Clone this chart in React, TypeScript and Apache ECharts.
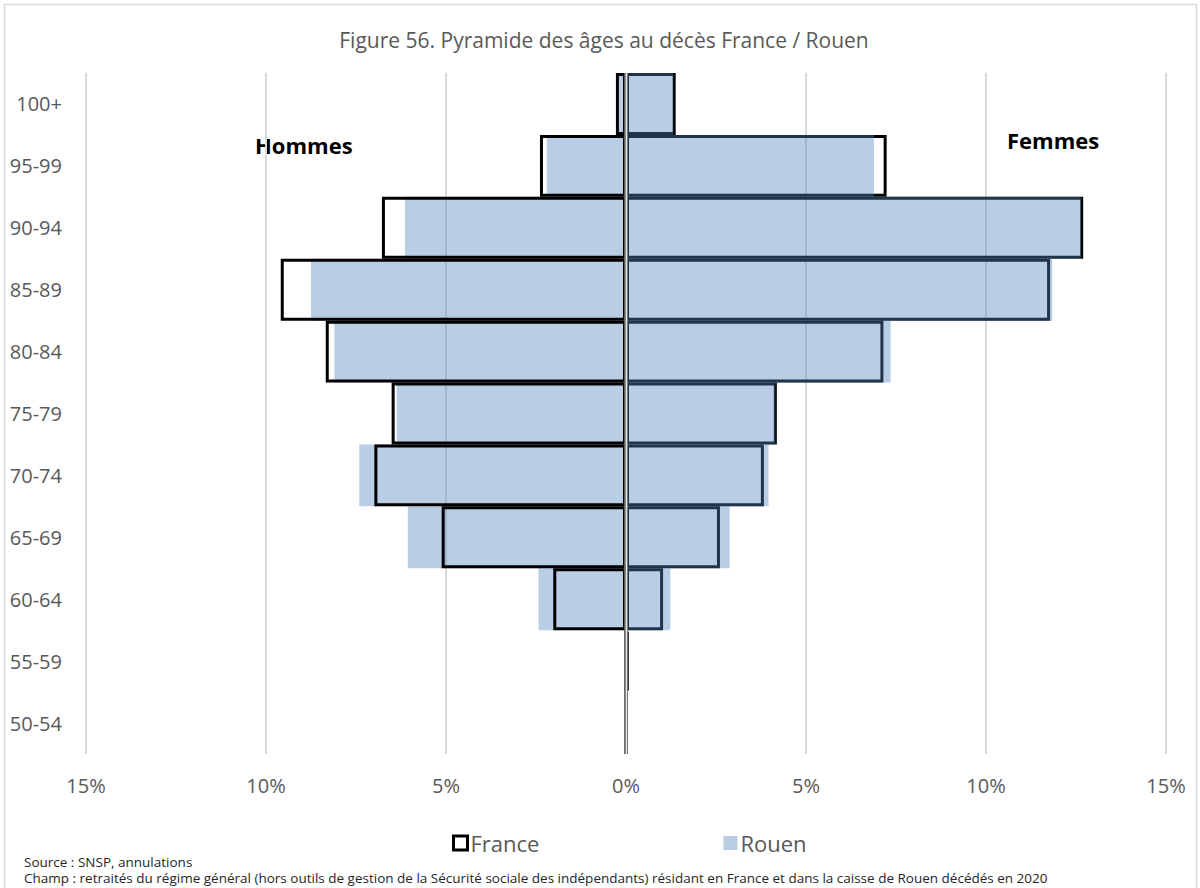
import React, { useEffect, useRef } from "react";
import * as echarts from "echarts";

const categories = ["50-54", "55-59", "60-64", "65-69", "70-74", "75-79", "80-84", "85-89", "90-94", "95-99", "100+"];
const franceHommes = [0, 0.02, 2.02, 5.12, 6.99, 6.51, 8.34, 9.59, 6.78, 2.39, 0.28];
const franceFemmes = [0, 0.07, 1.03, 2.61, 3.83, 4.19, 7.15, 11.78, 12.7, 7.24, 1.38];
const rouenHommes = [0, 0.02, 2.43, 6.06, 7.41, 6.37, 8.1, 8.75, 6.14, 2.2, 0.21];
const rouenFemmes = [0, 0.04, 1.23, 2.88, 3.96, 4.15, 7.35, 11.84, 12.64, 6.89, 1.31];
const xTicks = { min: -15, max: 15, interval: 5 };

const FONT = "'Open Sans', 'Noto Sans', sans-serif";
const GRAY = "#595959";
const ROUEN_COLOR = "rgba(79,129,189,0.4)";

export default function App() {
  const ref = useRef<HTMLDivElement>(null);
  useEffect(() => {
    if (!ref.current) return;
    const chart = echarts.init(ref.current, null, { renderer: "svg" });
    const franceStyle = { color: "rgba(0,0,0,0)", borderColor: "#000", borderWidth: 3 };
    const rouenStyle = { color: ROUEN_COLOR, borderWidth: 0 };
    chart.setOption({
      animation: false,
      backgroundColor: "#fff",
      textStyle: { fontFamily: FONT },
      title: {
        text: "Figure 56. Pyramide des âges au décès France / Rouen",
        left: 599,
        textAlign: "center",
        top: 24,
        textStyle: { fontFamily: FONT, fontSize: 21, fontWeight: "normal", color: GRAY },
      },
      grid: { left: 86, right: 34, top: 73, bottom: 134, containLabel: false },
      legend: {
        left: 447,
        top: 827,
        itemWidth: 14,
        itemHeight: 14,
        itemGap: 184,
        selectedMode: false,
        textStyle: { fontFamily: FONT, fontSize: 22, color: GRAY, padding: [0, 0, 0, -2] },
        data: [
          { name: "France", icon: "rect", itemStyle: { color: "#fff", borderColor: "#000", borderWidth: 3 } },
          { name: "Rouen", icon: "rect", itemStyle: { color: ROUEN_COLOR, borderWidth: 0 } },
        ],
      },
      xAxis: {
        type: "value",
        min: xTicks.min,
        max: xTicks.max,
        interval: xTicks.interval,
        axisLine: { show: false },
        axisTick: { show: false },
        axisLabel: {
          formatter: (v: number) => Math.abs(v) + "%",
          fontFamily: FONT,
          fontSize: 20,
          color: GRAY,
          margin: 21,
        },
        splitLine: { show: true, lineStyle: { color: "#d9d9d9", width: 2 } },
      },
      yAxis: {
        type: "category",
        data: categories,
        axisLine: { show: false },
        axisTick: { show: false },
        axisLabel: { fontFamily: FONT, fontSize: 20, color: GRAY, margin: 24 },
        splitLine: { show: false },
      },
      series: [
        {
          name: "Rouen",
          type: "bar",
          data: rouenHommes.map((v) => -v),
          barCategoryGap: "0%",
          barGap: "-100%",
          itemStyle: rouenStyle,
        },
        {
          name: "France",
          type: "bar",
          data: franceHommes.map((v) => -v),
          barCategoryGap: "0%",
          barGap: "-100%",
          itemStyle: franceStyle,
        },
        {
          name: "France",
          type: "bar",
          data: franceFemmes,
          barCategoryGap: "0%",
          barGap: "-100%",
          itemStyle: franceStyle,
        },
        {
          name: "Rouen",
          type: "bar",
          data: rouenFemmes,
          barCategoryGap: "0%",
          barGap: "-100%",
          itemStyle: rouenStyle,
          markLine: {
            silent: true,
            symbol: "none",
            label: { show: false },
            data: [
              { xAxis: 0, lineStyle: { color: "#7f7f7f", width: 3.5, type: "solid" } },
              { xAxis: 0, lineStyle: { color: "#e6e6e6", width: 1.2, type: "solid" } },
            ],
          },
        },
      ],
      graphic: [
        {
          type: "rect",
          shape: { x: 4.5, y: 4.5, width: 1192, height: 900 },
          style: { fill: "none", stroke: "#d9d9d9", lineWidth: 1.5 },
          silent: true,
        },
        {
          type: "text",
          left: 255,
          top: 134,
          style: { text: "Hommes", font: `bold 22px ${FONT}`, fill: "#000" },
        },
        {
          type: "text",
          left: 1007,
          top: 129,
          style: { text: "Femmes", font: `bold 22px ${FONT}`, fill: "#000" },
        },
        {
          type: "text",
          left: 24,
          top: 855,
          style: { text: "Source : SNSP, annulations", font: `13.5px ${FONT}`, fill: "#262626" },
        },
        {
          type: "text",
          left: 24,
          top: 871,
          style: {
            text: "Champ : retraités du régime général (hors outils de gestion de la Sécurité sociale des indépendants) résidant en France et dans la caisse de Rouen décédés en 2020",
            font: `13.5px ${FONT}`,
            fill: "#262626",
          },
        },
      ],
    });
    return () => chart.dispose();
  }, []);
  return (
    <div
      ref={ref}
      style={{ position: "fixed", left: 0, top: 0, width: 1200, height: 888 }}
    />
  );
}
